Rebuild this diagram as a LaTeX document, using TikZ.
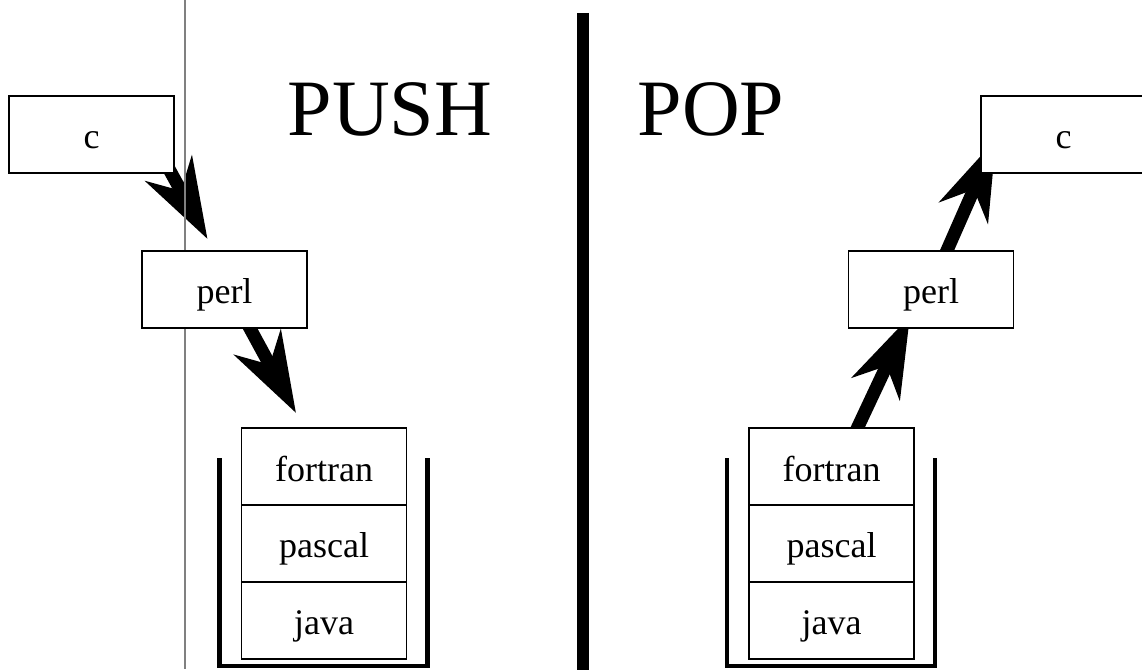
\documentclass[tikz,border=0pt]{standalone}
\usepackage{fontspec}
\setmainfont{Liberation Serif}
\usetikzlibrary{positioning, calc, arrows.meta, backgrounds}
\definecolor{Ink}{HTML}{000000}
\definecolor{Rule}{HTML}{808080}
\tikzset{
    cellnode/.style={rectangle, draw=Ink, fill=white, line width=1.1pt, minimum width=3.3cm, minimum height=1.54cm, inner sep=0pt, outer sep=0pt, text height=0.58cm, text depth=0pt, font=\fontsize{20.5}{24}\selectfont},
    titlenode/.style={anchor=base, inner sep=0pt, font=\fontsize{45.5}{50}\selectfont},
    bigarrow/.style={-{Stealth[length=1.6cm, width=1.05cm, inset=0.5cm]}, line width=7.4pt, color=Ink},
    wall/.style={line width=2.8pt, color=Ink},
    divider/.style={line width=6.3pt, color=Ink},
}
\begin{document}
\begin{tikzpicture}[x=0.02cm, y=-0.02cm]
    \useasboundingbox (0,0) rectangle (1142,669);

    % Linee verticali
    \draw[Rule, line width=0.8pt] (185,0) -- (185,669);
    \draw[divider] (583,13) -- (583,672);

    % Titoli
    \node[titlenode] (push) at (390,135) {PUSH};
    \node[titlenode] (pop) at (711,135) {POP};

    % Lato PUSH
    \node[cellnode] (cl) at (91.5,134.5) {c};
    \node[cellnode] (perll) at (224.5,289.5) {perl};
    \node[cellnode] (fortranl) at (324,466.5) {fortran};
    \node[cellnode, below=0pt of fortranl] (pascall) {pascal};
    \node[cellnode, below=0pt of pascall] (javal) {java};
    \draw[wall] ($(fortranl.north west)+(-22,30)$) |- ($(javal.south east)+(21,7)$) -- ($(fortranl.north east)+(21,30)$);

    % Lato POP
    \node[cellnode] (cr) at (1063.5,134.5) {c};
    \node[cellnode] (perlr) at (931,289.5) {perl};
    \node[cellnode] (fortranr) at (831.5,466.5) {fortran};
    \node[cellnode, below=0pt of fortranr] (pascalr) {pascal};
    \node[cellnode, below=0pt of pascalr] (javar) {java};
    \draw[wall] ($(fortranr.north west)+(-22,30)$) |- ($(javar.south east)+(21,7)$) -- ($(fortranr.north east)+(21,30)$);

    % Frecce (sotto i riquadri)
    \begin{scope}[on background layer]
        \draw[bigarrow] ([shift={(-5,-4)}]cl.south east) -- ([shift={(-17,-12)}]perll.north);
        \draw[bigarrow] ([shift={(22,-6)}]perll.south) -- ([shift={(-28,-15)}]fortranl.north);
        \draw[bigarrow] ([shift={(24,4)}]fortranr.north) -- ([shift={(-21,-12)}]perlr.south);
        \draw[bigarrow] ([shift={(14,4)}]perlr.north) -- ([shift={(15,-34)}]cr.south west);
    \end{scope}
\end{tikzpicture}
\end{document}
